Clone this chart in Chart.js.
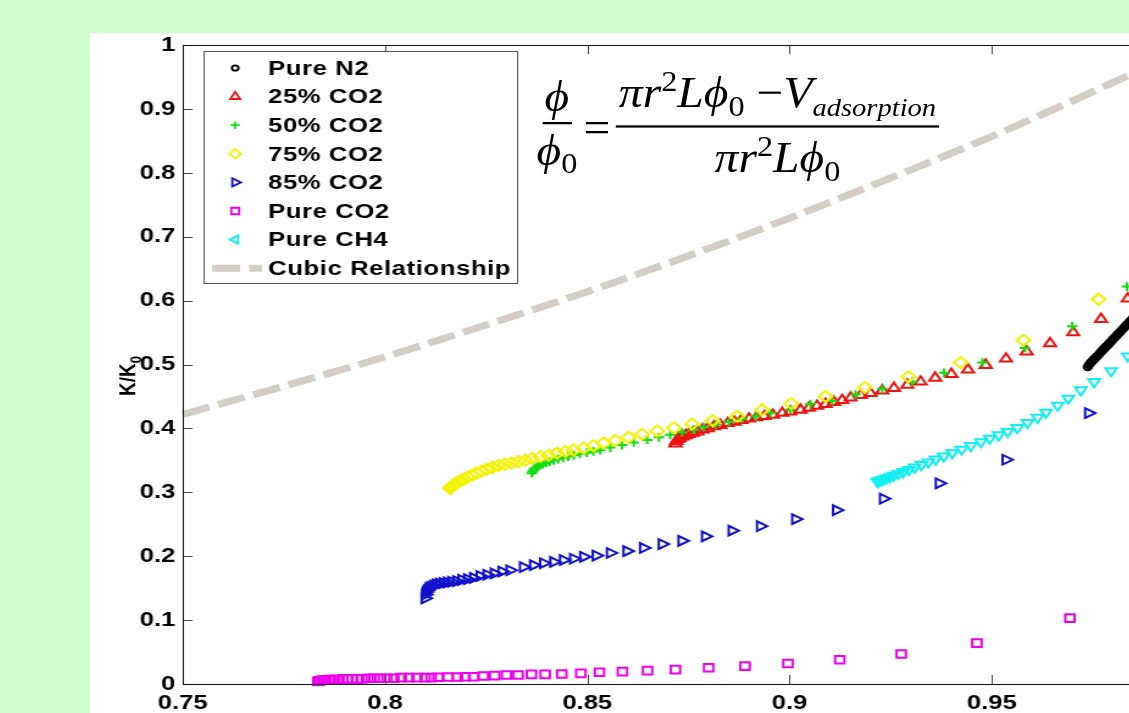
<!DOCTYPE html>
<html>
<head>
<meta charset="utf-8">
<script src="https://cdn.jsdelivr.net/npm/chart.js@4.4.0/dist/chart.umd.min.js"></script>
<style>
    html, body { margin: 0; padding: 0; width: 1129px; height: 713px; overflow: hidden; background: #ccffcc; }
    /* 原图被横向拉伸过，这里整体 scaleX */
    #panel { position: absolute; left: 90px; top: 33px; width: 920px; height: 680px; background: #fff; transform: scaleX(1.22); transform-origin: 0 0; }
    #chart { position: absolute; left: 0; top: 0; }
    #eq { position: absolute; left: 366px; top: 33px; display: flex; align-items: center; font-family: "Liberation Serif", "Times New Roman", serif; font-size: 39px; color: #000; white-space: nowrap; transform: scaleY(1.12); transform-origin: 0 0; }
    #eq i { font-style: italic; }
    #eq sub, #eq sup { font-size: 0.68em; }
    #eq sub { vertical-align: -0.3em; }
    #eq sup { vertical-align: 0.55em; }
    #eq sub.small { font-size: 0.6em; vertical-align: -0.35em; }
    .frac { display: inline-flex; flex-direction: column; align-items: center; }
    .frac .num { border-bottom: 2px solid #000; padding: 0 2px 3px; line-height: 1.05; }
    .frac .den { line-height: 1.05; padding-top: 3px; }
    .op { margin: 0 5px; }
</style>
</head>
<body>
<div id="panel">
    <canvas id="chart" width="920" height="680"></canvas>
    <div id="eq">
        <div class="frac"><div class="num"><i>ϕ</i></div><div class="den"><i>ϕ</i><sub>0</sub></div></div>
        <span class="op">=</span>
        <div class="frac"><div class="num"><i>πr</i><sup>2</sup><i>Lϕ</i><sub>0</sub> −<i>V</i><sub class="small"><i>adsorption</i></sub></div><div class="den"><i>πr</i><sup>2</sup><i>Lϕ</i><sub>0</sub></div></div>
    </div>
</div>
<script>
// 坐标轴刻度
const xTicks = [0.75, 0.8, 0.85, 0.9, 0.95, 1];
const yTicks = [0, 0.1, 0.2, 0.3, 0.4, 0.5, 0.6, 0.7, 0.8, 0.9, 1];

// 图例名称（与数据集顺序一致）
const seriesNames = ['Pure N2', '25% CO2', '50% CO2', '75% CO2', '85% CO2', 'Pure CO2', 'Pure CH4', 'Cubic Relationship'];

// Pure N2
const n2X = [0.9737, 0.9740, 0.9742, 0.9745, 0.9748, 0.9751, 0.9754, 0.9757, 0.9760, 0.9763, 0.9766, 0.9769, 0.9772, 0.9775, 0.9778, 0.9781, 0.9784, 0.9787, 0.9790, 0.9793, 0.9796, 0.9799, 0.9802, 0.9805, 0.9808, 0.9811, 0.9814, 0.9817, 0.9820, 0.9823, 0.9826, 0.9829, 0.9832, 0.9835, 0.9838, 0.9841, 0.9844, 0.9848];
const n2Y = [0.496, 0.499, 0.501, 0.503, 0.505, 0.507, 0.509, 0.511, 0.513, 0.515, 0.517, 0.519, 0.521, 0.523, 0.525, 0.527, 0.529, 0.531, 0.533, 0.535, 0.537, 0.539, 0.541, 0.543, 0.545, 0.547, 0.549, 0.551, 0.553, 0.555, 0.557, 0.559, 0.561, 0.563, 0.565, 0.567, 0.569, 0.572];

// 25% CO2
const co2q25X = [0.8718, 0.8720, 0.8724, 0.8729, 0.8735, 0.8743, 0.8751, 0.8761, 0.8772, 0.8785, 0.8798, 0.8813, 0.8829, 0.8847, 0.8864, 0.8881, 0.8900, 0.8918, 0.8938, 0.8959, 0.8982, 0.9002, 0.9027, 0.9048, 0.9068, 0.9089, 0.9110, 0.9130, 0.9151, 0.9176, 0.9200, 0.9229, 0.9258, 0.9291, 0.9324, 0.9360, 0.9400, 0.9441, 0.9485, 0.9535, 0.9586, 0.9644, 0.9701, 0.9770, 0.9836];
const co2q25Y = [0.376, 0.380, 0.383, 0.385, 0.387, 0.389, 0.391, 0.393, 0.395, 0.398, 0.400, 0.403, 0.405, 0.408, 0.410, 0.413, 0.415, 0.417, 0.419, 0.421, 0.424, 0.426, 0.429, 0.432, 0.435, 0.438, 0.441, 0.444, 0.448, 0.452, 0.455, 0.459, 0.463, 0.468, 0.473, 0.479, 0.485, 0.492, 0.499, 0.509, 0.520, 0.533, 0.550, 0.571, 0.603];

// 50% CO2
const co2q50X = [0.8363, 0.8365, 0.8368, 0.8372, 0.8377, 0.8383, 0.8390, 0.8398, 0.8407, 0.8417, 0.8428, 0.8440, 0.8453, 0.8467, 0.8482, 0.8499, 0.8515, 0.8532, 0.8557, 0.8586, 0.8615, 0.8648, 0.8677, 0.8705, 0.8734, 0.8763, 0.8788, 0.8817, 0.8850, 0.8883, 0.8916, 0.8953, 0.9002, 0.9052, 0.9105, 0.9163, 0.9229, 0.9303, 0.9382, 0.9477, 0.9582, 0.9699, 0.9834];
const co2q50Y = [0.330, 0.333, 0.336, 0.338, 0.340, 0.342, 0.344, 0.346, 0.348, 0.350, 0.352, 0.354, 0.356, 0.358, 0.360, 0.362, 0.364, 0.366, 0.370, 0.374, 0.378, 0.382, 0.386, 0.390, 0.394, 0.398, 0.402, 0.406, 0.410, 0.415, 0.419, 0.424, 0.429, 0.438, 0.443, 0.453, 0.462, 0.473, 0.487, 0.503, 0.526, 0.560, 0.622];

// 75% CO2
const co2q75X = [0.8161, 0.8163, 0.8166, 0.8170, 0.8175, 0.8181, 0.8188, 0.8196, 0.8205, 0.8215, 0.8226, 0.8238, 0.8251, 0.8265, 0.8280, 0.8296, 0.8313, 0.8330, 0.8347, 0.8363, 0.8384, 0.8404, 0.8425, 0.8446, 0.8466, 0.8491, 0.8516, 0.8540, 0.8569, 0.8602, 0.8635, 0.8673, 0.8714, 0.8759, 0.8810, 0.8871, 0.8932, 0.9004, 0.9089, 0.9186, 0.9294, 0.9423, 0.9578, 0.9764];
const co2q75Y = [0.306, 0.308, 0.310, 0.312, 0.314, 0.316, 0.318, 0.321, 0.324, 0.327, 0.330, 0.333, 0.336, 0.339, 0.342, 0.344, 0.346, 0.348, 0.350, 0.353, 0.356, 0.358, 0.361, 0.364, 0.366, 0.369, 0.373, 0.377, 0.381, 0.386, 0.391, 0.396, 0.401, 0.407, 0.412, 0.419, 0.429, 0.439, 0.450, 0.464, 0.481, 0.503, 0.538, 0.602];

// 85% CO2
const co2q85X = [0.8099, 0.8100, 0.8102, 0.8105, 0.8109, 0.8114, 0.8120, 0.8127, 0.8135, 0.8144, 0.8154, 0.8165, 0.8177, 0.8190, 0.8204, 0.8219, 0.8235, 0.8252, 0.8270, 0.8289, 0.8309, 0.8342, 0.8367, 0.8392, 0.8417, 0.8441, 0.8466, 0.8491, 0.8522, 0.8557, 0.8598, 0.8639, 0.8685, 0.8734, 0.8792, 0.8858, 0.8928, 0.9015, 0.9116, 0.9232, 0.9370, 0.9535, 0.9739];
const co2q85Y = [0.134, 0.140, 0.144, 0.147, 0.150, 0.152, 0.154, 0.156, 0.157, 0.158, 0.159, 0.160, 0.161, 0.163, 0.164, 0.166, 0.169, 0.171, 0.173, 0.176, 0.178, 0.183, 0.186, 0.189, 0.191, 0.194, 0.196, 0.199, 0.201, 0.205, 0.208, 0.213, 0.219, 0.224, 0.231, 0.240, 0.247, 0.258, 0.272, 0.290, 0.314, 0.351, 0.424];

// Pure CO2
const co2X = [0.7834, 0.7837, 0.7839, 0.7844, 0.7849, 0.7854, 0.7861, 0.7869, 0.7876, 0.7886, 0.7896, 0.7906, 0.7918, 0.7931, 0.7943, 0.7958, 0.7973, 0.7988, 0.8005, 0.8022, 0.8040, 0.8059, 0.8079, 0.8099, 0.8114, 0.8131, 0.8156, 0.8179, 0.8198, 0.8219, 0.8243, 0.8271, 0.8300, 0.8329, 0.8362, 0.8396, 0.8437, 0.8484, 0.8530, 0.8587, 0.8649, 0.8718, 0.8800, 0.8890, 0.8996, 0.9124, 0.9276, 0.9463, 0.9693];
const co2Y = [0.004, 0.005, 0.005, 0.006, 0.006, 0.006, 0.007, 0.007, 0.007, 0.007, 0.008, 0.008, 0.008, 0.008, 0.008, 0.009, 0.009, 0.009, 0.009, 0.009, 0.010, 0.010, 0.010, 0.010, 0.010, 0.0105, 0.011, 0.011, 0.0114, 0.0114, 0.0125, 0.013, 0.014, 0.014, 0.015, 0.015, 0.0156, 0.0167, 0.0183, 0.0193, 0.0209, 0.0224, 0.0255, 0.028, 0.032, 0.038, 0.047, 0.064, 0.103];

// Pure CH4
const ch4X = [0.9217, 0.9220, 0.9225, 0.9231, 0.9239, 0.9248, 0.9257, 0.9269, 0.9281, 0.9295, 0.9309, 0.9326, 0.9343, 0.9361, 0.9381, 0.9402, 0.9425, 0.9448, 0.9473, 0.9495, 0.9517, 0.9539, 0.9563, 0.9588, 0.9613, 0.9634, 0.9663, 0.9689, 0.9720, 0.9753, 0.9795, 0.9836];
const ch4Y = [0.3166, 0.3174, 0.3186, 0.3200, 0.3219, 0.3239, 0.3264, 0.3291, 0.3321, 0.3355, 0.3391, 0.3430, 0.3473, 0.3517, 0.3565, 0.3617, 0.3671, 0.3728, 0.3789, 0.3843, 0.3897, 0.395, 0.401, 0.409, 0.417, 0.425, 0.436, 0.447, 0.460, 0.473, 0.490, 0.513];

// Cubic Relationship（虚线）
const cubicX = [0.75, 0.775, 0.8, 0.825, 0.85, 0.875, 0.9, 0.925, 0.95, 0.975, 1.0];
const cubicY = [0.422, 0.466, 0.512, 0.562, 0.614, 0.670, 0.729, 0.792, 0.857, 0.927, 1.0];

// 样式
const colors = ['#000000', '#ee1111', '#11dd11', '#f2f200', '#1010cc', '#ee00ee', '#11eeee', '#d2cec6'];
const markers = [
    { style: 'circle', radius: 3.2, rotation: 0 },
    { style: 'triangle', radius: 5.6, rotation: 0 },
    { style: 'cross', radius: 4.4, rotation: 0 },
    { style: 'rectRot', radius: 5.6, rotation: 0 },
    { style: 'triangle', radius: 5.6, rotation: 90 },
    { style: 'rect', radius: 5.4, rotation: 0 },
    { style: 'triangle', radius: 5.4, rotation: 180 }
];
const legendRotation = [0, 0, 0, 0, 90, 0, -90];
const dash = [23, 7.5];
const FONT = '"Liberation Sans", Arial, sans-serif';

function toPoints(xs, ys) {
    return xs.map((x, i) => ({ x: x, y: ys[i] }));
}

const seriesData = [
    toPoints(n2X, n2Y),
    toPoints(co2q25X, co2q25Y),
    toPoints(co2q50X, co2q50Y),
    toPoints(co2q75X, co2q75Y),
    toPoints(co2q85X, co2q85Y),
    toPoints(co2X, co2Y),
    toPoints(ch4X, ch4Y)
];

const datasets = seriesData.map((data, i) => ({
    label: seriesNames[i],
    data: data,
    showLine: false,
    pointStyle: markers[i].style,
    pointRadius: markers[i].radius,
    pointRotation: markers[i].rotation,
    pointBorderWidth: 2,
    pointBorderColor: colors[i],
    pointBackgroundColor: 'rgba(0,0,0,0)',
    order: 20 - i
}));

datasets.push({
    label: seriesNames[7],
    data: toPoints(cubicX, cubicY),
    showLine: true,
    borderColor: colors[7],
    borderWidth: 7,
    borderDash: dash,
    borderCapStyle: 'butt',
    cubicInterpolationMode: 'monotone',
    pointRadius: 0,
    order: 1
});

// 边框 + 朝内的刻度线
const framePlugin = {
    id: 'frame',
    afterDatasetsDraw(chart) {
        const { ctx, chartArea: a, scales: { x, y } } = chart;
        ctx.save();
        ctx.strokeStyle = '#444';
        ctx.lineWidth = 1;
        ctx.beginPath();
        xTicks.forEach(v => {
            const px = Math.round(x.getPixelForValue(v)) + 0.5;
            ctx.moveTo(px, a.bottom); ctx.lineTo(px, a.bottom - 9);
            ctx.moveTo(px, a.top); ctx.lineTo(px, a.top + 9);
        });
        yTicks.forEach(v => {
            const py = Math.round(y.getPixelForValue(v)) + 0.5;
            ctx.moveTo(a.left, py); ctx.lineTo(a.left + 8, py);
            ctx.moveTo(a.right, py); ctx.lineTo(a.right - 8, py);
        });
        ctx.stroke();
        ctx.strokeStyle = '#111';
        ctx.strokeRect(Math.round(a.left) + 0.5, Math.round(a.top) + 0.5, Math.round(a.right - a.left), Math.round(a.bottom - a.top));
        ctx.restore();
    }
};

// 图例框（画在坐标区内部左上角）
const legendPlugin = {
    id: 'boxLegend',
    afterDraw(chart) {
        const ctx = chart.ctx;
        ctx.save();
        ctx.fillStyle = '#fff';
        ctx.fillRect(93, 18, 258, 233);
        ctx.strokeStyle = '#555';
        ctx.lineWidth = 1;
        ctx.strokeRect(93.5, 18.5, 257, 232);
        ctx.font = 'bold 21px ' + FONT;
        ctx.letterSpacing = '0.5px';
        ctx.textBaseline = 'middle';
        seriesNames.forEach((name, i) => {
            const yy = 35 + i * 28.6;
            ctx.fillStyle = '#000';
            ctx.fillText(name, 146, yy + 1);
            if (i < 7) {
                ctx.strokeStyle = colors[i];
                ctx.fillStyle = 'rgba(0,0,0,0)';
                ctx.lineWidth = 1.8;
                Chart.helpers.drawPoint(ctx, {
                    pointStyle: markers[i].style,
                    radius: markers[i].radius * 0.85,
                    rotation: legendRotation[i],
                    borderWidth: 1.8
                }, 119, yy);
            } else {
                ctx.strokeStyle = colors[i];
                ctx.lineWidth = 7;
                ctx.setLineDash(dash);
                ctx.beginPath();
                ctx.moveTo(100, yy);
                ctx.lineTo(141, yy);
                ctx.stroke();
                ctx.setLineDash([]);
            }
        });
        ctx.restore();
    }
};

// y 轴标题 K/K0（带下标）
const yTitlePlugin = {
    id: 'yTitle',
    afterDraw(chart) {
        const ctx = chart.ctx;
        ctx.save();
        ctx.translate(32, 343);
        ctx.rotate(-Math.PI / 2);
        ctx.fillStyle = '#000';
        ctx.textBaseline = 'middle';
        ctx.font = 'bold 19px ' + FONT;
        const w1 = ctx.measureText('K/K').width;
        ctx.font = 'bold 13px ' + FONT;
        const w2 = ctx.measureText('0').width;
        const x0 = -(w1 + w2) / 2;
        ctx.font = 'bold 19px ' + FONT;
        ctx.fillText('K/K', x0, 0);
        ctx.font = 'bold 13px ' + FONT;
        ctx.fillText('0', x0 + w1, 6);
        ctx.restore();
    }
};

function fmt(v) {
    return String(parseFloat(v.toFixed(2)));
}

new Chart(document.getElementById('chart'), {
    type: 'scatter',
    data: { datasets: datasets },
    options: {
        responsive: false,
        animation: false,
        events: [],
        layout: { padding: { left: 0, top: 12, right: 15, bottom: 0 } },
        plugins: {
            legend: { display: false },
            tooltip: { enabled: false }
        },
        elements: { line: { tension: 0 } },
        datasets: { scatter: { clip: false } },
        scales: {
            x: {
                type: 'linear',
                min: 0.75,
                max: 1,
                afterBuildTicks(scale) { scale.ticks = xTicks.map(v => ({ value: v })); },
                afterFit(scale) { scale.height = 29; scale.paddingLeft = 0; scale.paddingRight = 0; },
                grid: { display: false, drawTicks: false },
                border: { display: false },
                ticks: {
                    padding: 7,
                    color: '#000',
                    font: { family: FONT, size: 21, weight: 'bold' },
                    maxRotation: 0,
                    autoSkip: false,
                    callback: v => fmt(v)
                }
            },
            y: {
                type: 'linear',
                min: 0,
                max: 1,
                afterBuildTicks(scale) { scale.ticks = yTicks.map(v => ({ value: v })); },
                afterFit(scale) { scale.width = 76; scale.paddingTop = 0; scale.paddingBottom = 0; },
                grid: { display: false, drawTicks: false },
                border: { display: false },
                ticks: {
                    padding: 6,
                    color: '#000',
                    font: { family: FONT, size: 21, weight: 'bold' },
                    autoSkip: false,
                    callback: v => fmt(v)
                }
            }
        }
    },
    plugins: [framePlugin, legendPlugin, yTitlePlugin]
});
</script>
</body>
</html>
